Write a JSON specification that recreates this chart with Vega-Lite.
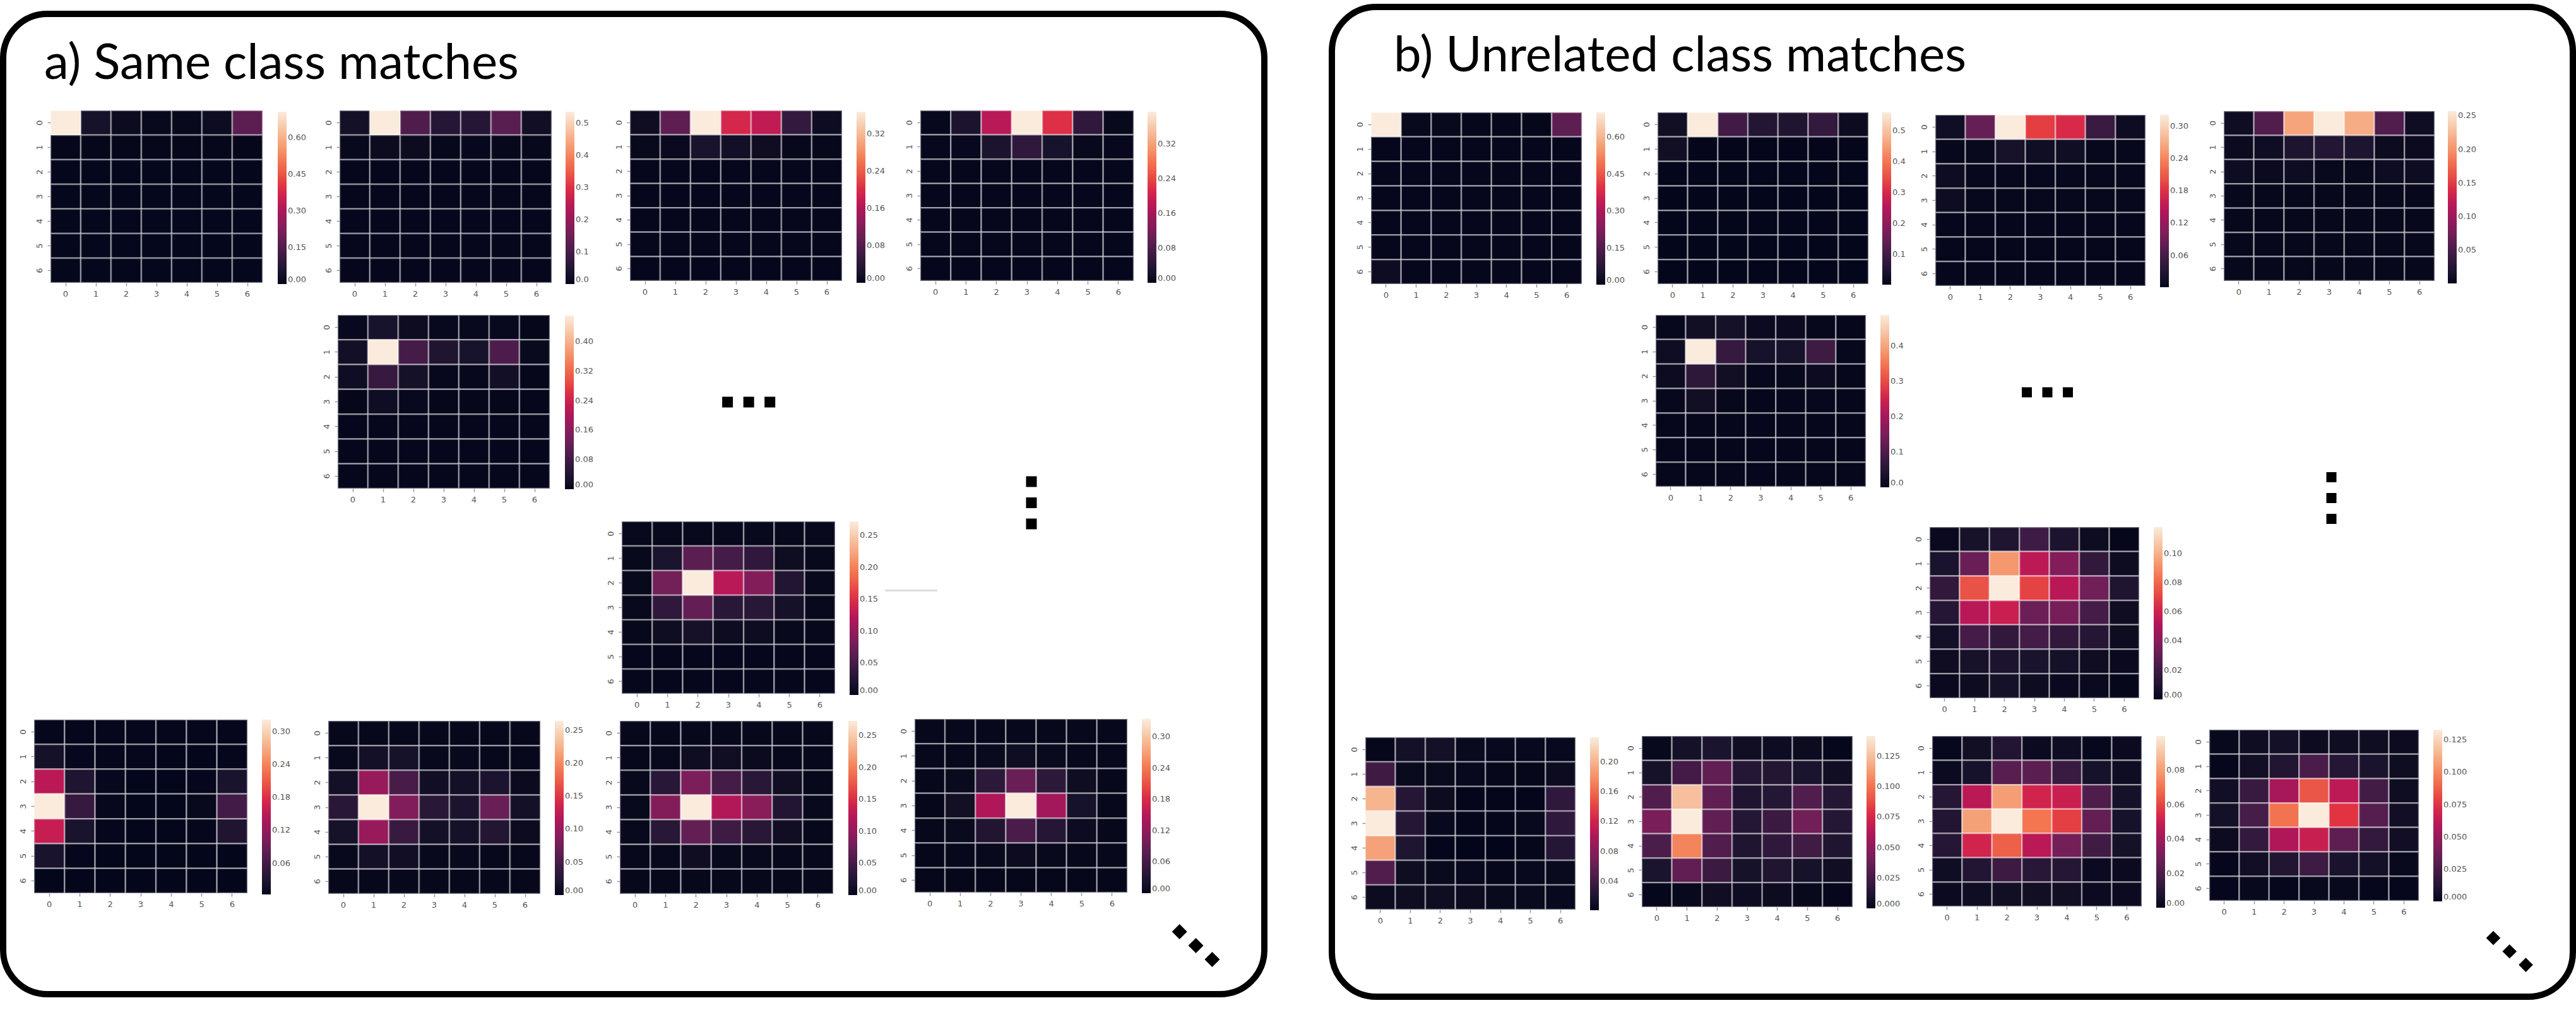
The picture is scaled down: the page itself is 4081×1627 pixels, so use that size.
{"$schema":"https://vega.github.io/schema/vega-lite/v6.json","autosize":{"type":"none"},"padding":0,"width":4081,"height":1627,"background":"white",
"config":{"view":{"stroke":null},"axis":{"domain":false,"grid":false,"ticks":true,"tickSize":5,"tickWidth":1.5,"tickColor":"#999999","labelFont":"DejaVu Sans","labelFontSize":13,"labelColor":"#555555","labelPadding":6,"labelOverlap":false,"labelBound":false,"labelFlush":false},"axisX":{"labelAngle":0},"axisY":{"labelAngle":-90,"labelAlign":"center","labelBaseline":"bottom"},"legend":{"labelFont":"DejaVu Sans","labelFontSize":13,"labelColor":"#555555","labelOffset":5,"labelBaseline":"middle","padding":0,"gradientStrokeWidth":0,"labelOverlap":false,"orient":"none","gradientThickness":14,"title":null}},
"resolve":{"scale":{"x":"independent","y":"independent","color":"independent"},"axis":{"x":"independent","y":"independent"},"legend":{"color":"independent"}},
"datasets":{
"A1":[{"x":0,"y":0,"v":0.706},{"x":1,"y":0,"v":0.04},{"x":2,"y":0,"v":0.015},{"x":3,"y":0,"v":0.01},{"x":4,"y":0,"v":0.01},{"x":5,"y":0,"v":0.02},{"x":6,"y":0,"v":0.17},{"x":0,"y":1,"v":0.006},{"x":1,"y":1,"v":0.006},{"x":2,"y":1,"v":0.006},{"x":3,"y":1,"v":0.006},{"x":4,"y":1,"v":0.006},{"x":5,"y":1,"v":0.006},{"x":6,"y":1,"v":0.006},{"x":0,"y":2,"v":0.004},{"x":1,"y":2,"v":0.004},{"x":2,"y":2,"v":0.004},{"x":3,"y":2,"v":0.004},{"x":4,"y":2,"v":0.004},{"x":5,"y":2,"v":0.004},{"x":6,"y":2,"v":0.004},{"x":0,"y":3,"v":0.004},{"x":1,"y":3,"v":0.004},{"x":2,"y":3,"v":0.004},{"x":3,"y":3,"v":0.004},{"x":4,"y":3,"v":0.004},{"x":5,"y":3,"v":0.004},{"x":6,"y":3,"v":0.004},{"x":0,"y":4,"v":0.004},{"x":1,"y":4,"v":0.004},{"x":2,"y":4,"v":0.004},{"x":3,"y":4,"v":0.004},{"x":4,"y":4,"v":0.004},{"x":5,"y":4,"v":0.004},{"x":6,"y":4,"v":0.004},{"x":0,"y":5,"v":0.004},{"x":1,"y":5,"v":0.004},{"x":2,"y":5,"v":0.004},{"x":3,"y":5,"v":0.004},{"x":4,"y":5,"v":0.004},{"x":5,"y":5,"v":0.004},{"x":6,"y":5,"v":0.004},{"x":0,"y":6,"v":0.004},{"x":1,"y":6,"v":0.004},{"x":2,"y":6,"v":0.004},{"x":3,"y":6,"v":0.004},{"x":4,"y":6,"v":0.004},{"x":5,"y":6,"v":0.004},{"x":6,"y":6,"v":0.004}],
"A2":[{"x":0,"y":0,"v":0.025},{"x":1,"y":0,"v":0.535},{"x":2,"y":0,"v":0.11},{"x":3,"y":0,"v":0.055},{"x":4,"y":0,"v":0.055},{"x":5,"y":0,"v":0.125},{"x":6,"y":0,"v":0.02},{"x":0,"y":1,"v":0.008},{"x":1,"y":1,"v":0.012},{"x":2,"y":1,"v":0.012},{"x":3,"y":1,"v":0.006},{"x":4,"y":1,"v":0.005},{"x":5,"y":1,"v":0.006},{"x":6,"y":1,"v":0.006},{"x":0,"y":2,"v":0.004},{"x":1,"y":2,"v":0.004},{"x":2,"y":2,"v":0.004},{"x":3,"y":2,"v":0.004},{"x":4,"y":2,"v":0.004},{"x":5,"y":2,"v":0.004},{"x":6,"y":2,"v":0.004},{"x":0,"y":3,"v":0.004},{"x":1,"y":3,"v":0.004},{"x":2,"y":3,"v":0.004},{"x":3,"y":3,"v":0.004},{"x":4,"y":3,"v":0.004},{"x":5,"y":3,"v":0.004},{"x":6,"y":3,"v":0.004},{"x":0,"y":4,"v":0.004},{"x":1,"y":4,"v":0.004},{"x":2,"y":4,"v":0.004},{"x":3,"y":4,"v":0.004},{"x":4,"y":4,"v":0.004},{"x":5,"y":4,"v":0.004},{"x":6,"y":4,"v":0.004},{"x":0,"y":5,"v":0.004},{"x":1,"y":5,"v":0.004},{"x":2,"y":5,"v":0.004},{"x":3,"y":5,"v":0.004},{"x":4,"y":5,"v":0.004},{"x":5,"y":5,"v":0.004},{"x":6,"y":5,"v":0.004},{"x":0,"y":6,"v":0.004},{"x":1,"y":6,"v":0.004},{"x":2,"y":6,"v":0.004},{"x":3,"y":6,"v":0.004},{"x":4,"y":6,"v":0.004},{"x":5,"y":6,"v":0.004},{"x":6,"y":6,"v":0.004}],
"A3":[{"x":0,"y":0,"v":0.012},{"x":1,"y":0,"v":0.09},{"x":2,"y":0,"v":0.367},{"x":3,"y":0,"v":0.195},{"x":4,"y":0,"v":0.175},{"x":5,"y":0,"v":0.05},{"x":6,"y":0,"v":0.01},{"x":0,"y":1,"v":0.005},{"x":1,"y":1,"v":0.006},{"x":2,"y":1,"v":0.025},{"x":3,"y":1,"v":0.015},{"x":4,"y":1,"v":0.012},{"x":5,"y":1,"v":0.004},{"x":6,"y":1,"v":0.004},{"x":0,"y":2,"v":0.003},{"x":1,"y":2,"v":0.003},{"x":2,"y":2,"v":0.003},{"x":3,"y":2,"v":0.003},{"x":4,"y":2,"v":0.003},{"x":5,"y":2,"v":0.003},{"x":6,"y":2,"v":0.003},{"x":0,"y":3,"v":0.003},{"x":1,"y":3,"v":0.003},{"x":2,"y":3,"v":0.003},{"x":3,"y":3,"v":0.003},{"x":4,"y":3,"v":0.003},{"x":5,"y":3,"v":0.003},{"x":6,"y":3,"v":0.003},{"x":0,"y":4,"v":0.003},{"x":1,"y":4,"v":0.003},{"x":2,"y":4,"v":0.003},{"x":3,"y":4,"v":0.003},{"x":4,"y":4,"v":0.003},{"x":5,"y":4,"v":0.003},{"x":6,"y":4,"v":0.003},{"x":0,"y":5,"v":0.003},{"x":1,"y":5,"v":0.003},{"x":2,"y":5,"v":0.003},{"x":3,"y":5,"v":0.003},{"x":4,"y":5,"v":0.003},{"x":5,"y":5,"v":0.003},{"x":6,"y":5,"v":0.003},{"x":0,"y":6,"v":0.003},{"x":1,"y":6,"v":0.003},{"x":2,"y":6,"v":0.003},{"x":3,"y":6,"v":0.003},{"x":4,"y":6,"v":0.003},{"x":5,"y":6,"v":0.003},{"x":6,"y":6,"v":0.003}],
"A4":[{"x":0,"y":0,"v":0.004},{"x":1,"y":0,"v":0.03},{"x":2,"y":0,"v":0.18},{"x":3,"y":0,"v":0.394},{"x":4,"y":0,"v":0.22},{"x":5,"y":0,"v":0.05},{"x":6,"y":0,"v":0.006},{"x":0,"y":1,"v":0.004},{"x":1,"y":1,"v":0.005},{"x":2,"y":1,"v":0.03},{"x":3,"y":1,"v":0.05},{"x":4,"y":1,"v":0.025},{"x":5,"y":1,"v":0.006},{"x":6,"y":1,"v":0.004},{"x":0,"y":2,"v":0.003},{"x":1,"y":2,"v":0.003},{"x":2,"y":2,"v":0.003},{"x":3,"y":2,"v":0.003},{"x":4,"y":2,"v":0.003},{"x":5,"y":2,"v":0.003},{"x":6,"y":2,"v":0.003},{"x":0,"y":3,"v":0.003},{"x":1,"y":3,"v":0.003},{"x":2,"y":3,"v":0.003},{"x":3,"y":3,"v":0.003},{"x":4,"y":3,"v":0.003},{"x":5,"y":3,"v":0.003},{"x":6,"y":3,"v":0.003},{"x":0,"y":4,"v":0.003},{"x":1,"y":4,"v":0.003},{"x":2,"y":4,"v":0.003},{"x":3,"y":4,"v":0.003},{"x":4,"y":4,"v":0.003},{"x":5,"y":4,"v":0.003},{"x":6,"y":4,"v":0.003},{"x":0,"y":5,"v":0.003},{"x":1,"y":5,"v":0.003},{"x":2,"y":5,"v":0.003},{"x":3,"y":5,"v":0.003},{"x":4,"y":5,"v":0.003},{"x":5,"y":5,"v":0.003},{"x":6,"y":5,"v":0.003},{"x":0,"y":6,"v":0.003},{"x":1,"y":6,"v":0.003},{"x":2,"y":6,"v":0.003},{"x":3,"y":6,"v":0.003},{"x":4,"y":6,"v":0.003},{"x":5,"y":6,"v":0.003},{"x":6,"y":6,"v":0.003}],
"A5":[{"x":0,"y":0,"v":0.006},{"x":1,"y":0,"v":0.03},{"x":2,"y":0,"v":0.012},{"x":3,"y":0,"v":0.006},{"x":4,"y":0,"v":0.006},{"x":5,"y":0,"v":0.006},{"x":6,"y":0,"v":0.004},{"x":0,"y":1,"v":0.02},{"x":1,"y":1,"v":0.47},{"x":2,"y":1,"v":0.085},{"x":3,"y":1,"v":0.04},{"x":4,"y":1,"v":0.03},{"x":5,"y":1,"v":0.095},{"x":6,"y":1,"v":0.008},{"x":0,"y":2,"v":0.015},{"x":1,"y":2,"v":0.07},{"x":2,"y":2,"v":0.025},{"x":3,"y":2,"v":0.005},{"x":4,"y":2,"v":0.005},{"x":5,"y":2,"v":0.02},{"x":6,"y":2,"v":0.004},{"x":0,"y":3,"v":0.004},{"x":1,"y":3,"v":0.015},{"x":2,"y":3,"v":0.006},{"x":3,"y":3,"v":0.004},{"x":4,"y":3,"v":0.004},{"x":5,"y":3,"v":0.004},{"x":6,"y":3,"v":0.003},{"x":0,"y":4,"v":0.003},{"x":1,"y":4,"v":0.003},{"x":2,"y":4,"v":0.003},{"x":3,"y":4,"v":0.003},{"x":4,"y":4,"v":0.003},{"x":5,"y":4,"v":0.003},{"x":6,"y":4,"v":0.003},{"x":0,"y":5,"v":0.003},{"x":1,"y":5,"v":0.003},{"x":2,"y":5,"v":0.003},{"x":3,"y":5,"v":0.003},{"x":4,"y":5,"v":0.003},{"x":5,"y":5,"v":0.003},{"x":6,"y":5,"v":0.003},{"x":0,"y":6,"v":0.003},{"x":1,"y":6,"v":0.003},{"x":2,"y":6,"v":0.003},{"x":3,"y":6,"v":0.003},{"x":4,"y":6,"v":0.003},{"x":5,"y":6,"v":0.003},{"x":6,"y":6,"v":0.003}],
"A6":[{"x":0,"y":0,"v":0.004},{"x":1,"y":0,"v":0.004},{"x":2,"y":0,"v":0.004},{"x":3,"y":0,"v":0.004},{"x":4,"y":0,"v":0.004},{"x":5,"y":0,"v":0.004},{"x":6,"y":0,"v":0.004},{"x":0,"y":1,"v":0.004},{"x":1,"y":1,"v":0.02},{"x":2,"y":1,"v":0.065},{"x":3,"y":1,"v":0.05},{"x":4,"y":1,"v":0.035},{"x":5,"y":1,"v":0.008},{"x":6,"y":1,"v":0.004},{"x":0,"y":2,"v":0.004},{"x":1,"y":2,"v":0.08},{"x":2,"y":2,"v":0.272},{"x":3,"y":2,"v":0.125},{"x":4,"y":2,"v":0.09},{"x":5,"y":2,"v":0.025},{"x":6,"y":2,"v":0.004},{"x":0,"y":3,"v":0.004},{"x":1,"y":3,"v":0.035},{"x":2,"y":3,"v":0.07},{"x":3,"y":3,"v":0.03},{"x":4,"y":3,"v":0.03},{"x":5,"y":3,"v":0.015},{"x":6,"y":3,"v":0.004},{"x":0,"y":4,"v":0.003},{"x":1,"y":4,"v":0.008},{"x":2,"y":4,"v":0.015},{"x":3,"y":4,"v":0.007},{"x":4,"y":4,"v":0.007},{"x":5,"y":4,"v":0.004},{"x":6,"y":4,"v":0.003},{"x":0,"y":5,"v":0.002},{"x":1,"y":5,"v":0.002},{"x":2,"y":5,"v":0.002},{"x":3,"y":5,"v":0.002},{"x":4,"y":5,"v":0.002},{"x":5,"y":5,"v":0.002},{"x":6,"y":5,"v":0.002},{"x":0,"y":6,"v":0.002},{"x":1,"y":6,"v":0.002},{"x":2,"y":6,"v":0.002},{"x":3,"y":6,"v":0.002},{"x":4,"y":6,"v":0.002},{"x":5,"y":6,"v":0.002},{"x":6,"y":6,"v":0.002}],
"A7":[{"x":0,"y":0,"v":0.005},{"x":1,"y":0,"v":0.005},{"x":2,"y":0,"v":0.005},{"x":3,"y":0,"v":0.005},{"x":4,"y":0,"v":0.005},{"x":5,"y":0,"v":0.005},{"x":6,"y":0,"v":0.005},{"x":0,"y":1,"v":0.02},{"x":1,"y":1,"v":0.006},{"x":2,"y":1,"v":0.005},{"x":3,"y":1,"v":0.005},{"x":4,"y":1,"v":0.004},{"x":5,"y":1,"v":0.004},{"x":6,"y":1,"v":0.005},{"x":0,"y":2,"v":0.15},{"x":1,"y":2,"v":0.03},{"x":2,"y":2,"v":0.006},{"x":3,"y":2,"v":0.004},{"x":4,"y":2,"v":0.004},{"x":5,"y":2,"v":0.005},{"x":6,"y":2,"v":0.025},{"x":0,"y":3,"v":0.322},{"x":1,"y":3,"v":0.05},{"x":2,"y":3,"v":0.006},{"x":3,"y":3,"v":0.004},{"x":4,"y":3,"v":0.004},{"x":5,"y":3,"v":0.008},{"x":6,"y":3,"v":0.06},{"x":0,"y":4,"v":0.16},{"x":1,"y":4,"v":0.025},{"x":2,"y":4,"v":0.005},{"x":3,"y":4,"v":0.004},{"x":4,"y":4,"v":0.004},{"x":5,"y":4,"v":0.005},{"x":6,"y":4,"v":0.03},{"x":0,"y":5,"v":0.025},{"x":1,"y":5,"v":0.005},{"x":2,"y":5,"v":0.004},{"x":3,"y":5,"v":0.004},{"x":4,"y":5,"v":0.004},{"x":5,"y":5,"v":0.004},{"x":6,"y":5,"v":0.004},{"x":0,"y":6,"v":0.004},{"x":1,"y":6,"v":0.004},{"x":2,"y":6,"v":0.004},{"x":3,"y":6,"v":0.004},{"x":4,"y":6,"v":0.004},{"x":5,"y":6,"v":0.004},{"x":6,"y":6,"v":0.004}],
"A8":[{"x":0,"y":0,"v":0.003},{"x":1,"y":0,"v":0.003},{"x":2,"y":0,"v":0.003},{"x":3,"y":0,"v":0.003},{"x":4,"y":0,"v":0.003},{"x":5,"y":0,"v":0.003},{"x":6,"y":0,"v":0.003},{"x":0,"y":1,"v":0.004},{"x":1,"y":1,"v":0.012},{"x":2,"y":1,"v":0.015},{"x":3,"y":1,"v":0.004},{"x":4,"y":1,"v":0.004},{"x":5,"y":1,"v":0.003},{"x":6,"y":1,"v":0.003},{"x":0,"y":2,"v":0.012},{"x":1,"y":2,"v":0.1},{"x":2,"y":2,"v":0.05},{"x":3,"y":2,"v":0.01},{"x":4,"y":2,"v":0.012},{"x":5,"y":2,"v":0.02},{"x":6,"y":2,"v":0.005},{"x":0,"y":3,"v":0.03},{"x":1,"y":3,"v":0.264},{"x":2,"y":3,"v":0.085},{"x":3,"y":3,"v":0.03},{"x":4,"y":3,"v":0.02},{"x":5,"y":3,"v":0.07},{"x":6,"y":3,"v":0.012},{"x":0,"y":4,"v":0.015},{"x":1,"y":4,"v":0.1},{"x":2,"y":4,"v":0.04},{"x":3,"y":4,"v":0.012},{"x":4,"y":4,"v":0.014},{"x":5,"y":4,"v":0.025},{"x":6,"y":4,"v":0.006},{"x":0,"y":5,"v":0.004},{"x":1,"y":5,"v":0.012},{"x":2,"y":5,"v":0.01},{"x":3,"y":5,"v":0.004},{"x":4,"y":5,"v":0.004},{"x":5,"y":5,"v":0.003},{"x":6,"y":5,"v":0.003},{"x":0,"y":6,"v":0.003},{"x":1,"y":6,"v":0.003},{"x":2,"y":6,"v":0.003},{"x":3,"y":6,"v":0.003},{"x":4,"y":6,"v":0.003},{"x":5,"y":6,"v":0.003},{"x":6,"y":6,"v":0.003}],
"A9":[{"x":0,"y":0,"v":0.003},{"x":1,"y":0,"v":0.003},{"x":2,"y":0,"v":0.003},{"x":3,"y":0,"v":0.003},{"x":4,"y":0,"v":0.003},{"x":5,"y":0,"v":0.003},{"x":6,"y":0,"v":0.003},{"x":0,"y":1,"v":0.003},{"x":1,"y":1,"v":0.004},{"x":2,"y":1,"v":0.008},{"x":3,"y":1,"v":0.01},{"x":4,"y":1,"v":0.005},{"x":5,"y":1,"v":0.003},{"x":6,"y":1,"v":0.003},{"x":0,"y":2,"v":0.004},{"x":1,"y":2,"v":0.03},{"x":2,"y":2,"v":0.085},{"x":3,"y":2,"v":0.05},{"x":4,"y":2,"v":0.03},{"x":5,"y":2,"v":0.01},{"x":6,"y":2,"v":0.003},{"x":0,"y":3,"v":0.004},{"x":1,"y":3,"v":0.09},{"x":2,"y":3,"v":0.273},{"x":3,"y":3,"v":0.12},{"x":4,"y":3,"v":0.093},{"x":5,"y":3,"v":0.025},{"x":6,"y":3,"v":0.004},{"x":0,"y":4,"v":0.004},{"x":1,"y":4,"v":0.03},{"x":2,"y":4,"v":0.07},{"x":3,"y":4,"v":0.045},{"x":4,"y":4,"v":0.03},{"x":5,"y":4,"v":0.01},{"x":6,"y":4,"v":0.003},{"x":0,"y":5,"v":0.003},{"x":1,"y":5,"v":0.004},{"x":2,"y":5,"v":0.009},{"x":3,"y":5,"v":0.004},{"x":4,"y":5,"v":0.004},{"x":5,"y":5,"v":0.003},{"x":6,"y":5,"v":0.003},{"x":0,"y":6,"v":0.003},{"x":1,"y":6,"v":0.003},{"x":2,"y":6,"v":0.003},{"x":3,"y":6,"v":0.003},{"x":4,"y":6,"v":0.003},{"x":5,"y":6,"v":0.003},{"x":6,"y":6,"v":0.003}],
"A10":[{"x":0,"y":0,"v":0.004},{"x":1,"y":0,"v":0.004},{"x":2,"y":0,"v":0.004},{"x":3,"y":0,"v":0.004},{"x":4,"y":0,"v":0.004},{"x":5,"y":0,"v":0.004},{"x":6,"y":0,"v":0.004},{"x":0,"y":1,"v":0.004},{"x":1,"y":1,"v":0.004},{"x":2,"y":1,"v":0.006},{"x":3,"y":1,"v":0.01},{"x":4,"y":1,"v":0.006},{"x":5,"y":1,"v":0.004},{"x":6,"y":1,"v":0.004},{"x":0,"y":2,"v":0.004},{"x":1,"y":2,"v":0.006},{"x":2,"y":2,"v":0.04},{"x":3,"y":2,"v":0.09},{"x":4,"y":2,"v":0.04},{"x":5,"y":2,"v":0.01},{"x":6,"y":2,"v":0.004},{"x":0,"y":3,"v":0.003},{"x":1,"y":3,"v":0.015},{"x":2,"y":3,"v":0.145},{"x":3,"y":3,"v":0.334},{"x":4,"y":3,"v":0.135},{"x":5,"y":3,"v":0.02},{"x":6,"y":3,"v":0.004},{"x":0,"y":4,"v":0.004},{"x":1,"y":4,"v":0.006},{"x":2,"y":4,"v":0.03},{"x":3,"y":4,"v":0.065},{"x":4,"y":4,"v":0.035},{"x":5,"y":4,"v":0.008},{"x":6,"y":4,"v":0.004},{"x":0,"y":5,"v":0.003},{"x":1,"y":5,"v":0.004},{"x":2,"y":5,"v":0.005},{"x":3,"y":5,"v":0.007},{"x":4,"y":5,"v":0.005},{"x":5,"y":5,"v":0.004},{"x":6,"y":5,"v":0.004},{"x":0,"y":6,"v":0.003},{"x":1,"y":6,"v":0.003},{"x":2,"y":6,"v":0.003},{"x":3,"y":6,"v":0.003},{"x":4,"y":6,"v":0.003},{"x":5,"y":6,"v":0.003},{"x":6,"y":6,"v":0.003}],
"B1":[{"x":0,"y":0,"v":0.7},{"x":1,"y":0,"v":0.01},{"x":2,"y":0,"v":0.01},{"x":3,"y":0,"v":0.006},{"x":4,"y":0,"v":0.006},{"x":5,"y":0,"v":0.006},{"x":6,"y":0,"v":0.17},{"x":0,"y":1,"v":0.005},{"x":1,"y":1,"v":0.005},{"x":2,"y":1,"v":0.005},{"x":3,"y":1,"v":0.005},{"x":4,"y":1,"v":0.005},{"x":5,"y":1,"v":0.005},{"x":6,"y":1,"v":0.005},{"x":0,"y":2,"v":0.005},{"x":1,"y":2,"v":0.005},{"x":2,"y":2,"v":0.005},{"x":3,"y":2,"v":0.005},{"x":4,"y":2,"v":0.005},{"x":5,"y":2,"v":0.005},{"x":6,"y":2,"v":0.005},{"x":0,"y":3,"v":0.005},{"x":1,"y":3,"v":0.005},{"x":2,"y":3,"v":0.005},{"x":3,"y":3,"v":0.005},{"x":4,"y":3,"v":0.005},{"x":5,"y":3,"v":0.005},{"x":6,"y":3,"v":0.005},{"x":0,"y":4,"v":0.005},{"x":1,"y":4,"v":0.005},{"x":2,"y":4,"v":0.005},{"x":3,"y":4,"v":0.005},{"x":4,"y":4,"v":0.005},{"x":5,"y":4,"v":0.005},{"x":6,"y":4,"v":0.005},{"x":0,"y":5,"v":0.005},{"x":1,"y":5,"v":0.005},{"x":2,"y":5,"v":0.005},{"x":3,"y":5,"v":0.005},{"x":4,"y":5,"v":0.005},{"x":5,"y":5,"v":0.005},{"x":6,"y":5,"v":0.005},{"x":0,"y":6,"v":0.02},{"x":1,"y":6,"v":0.005},{"x":2,"y":6,"v":0.005},{"x":3,"y":6,"v":0.005},{"x":4,"y":6,"v":0.005},{"x":5,"y":6,"v":0.005},{"x":6,"y":6,"v":0.005}],
"B2":[{"x":0,"y":0,"v":0.025},{"x":1,"y":0,"v":0.56},{"x":2,"y":0,"v":0.1},{"x":3,"y":0,"v":0.055},{"x":4,"y":0,"v":0.05},{"x":5,"y":0,"v":0.08},{"x":6,"y":0,"v":0.015},{"x":0,"y":1,"v":0.025},{"x":1,"y":1,"v":0.006},{"x":2,"y":1,"v":0.006},{"x":3,"y":1,"v":0.006},{"x":4,"y":1,"v":0.006},{"x":5,"y":1,"v":0.006},{"x":6,"y":1,"v":0.006},{"x":0,"y":2,"v":0.005},{"x":1,"y":2,"v":0.005},{"x":2,"y":2,"v":0.005},{"x":3,"y":2,"v":0.005},{"x":4,"y":2,"v":0.005},{"x":5,"y":2,"v":0.005},{"x":6,"y":2,"v":0.005},{"x":0,"y":3,"v":0.005},{"x":1,"y":3,"v":0.005},{"x":2,"y":3,"v":0.005},{"x":3,"y":3,"v":0.005},{"x":4,"y":3,"v":0.005},{"x":5,"y":3,"v":0.005},{"x":6,"y":3,"v":0.005},{"x":0,"y":4,"v":0.005},{"x":1,"y":4,"v":0.005},{"x":2,"y":4,"v":0.005},{"x":3,"y":4,"v":0.005},{"x":4,"y":4,"v":0.005},{"x":5,"y":4,"v":0.005},{"x":6,"y":4,"v":0.005},{"x":0,"y":5,"v":0.005},{"x":1,"y":5,"v":0.005},{"x":2,"y":5,"v":0.005},{"x":3,"y":5,"v":0.005},{"x":4,"y":5,"v":0.005},{"x":5,"y":5,"v":0.005},{"x":6,"y":5,"v":0.005},{"x":0,"y":6,"v":0.005},{"x":1,"y":6,"v":0.005},{"x":2,"y":6,"v":0.005},{"x":3,"y":6,"v":0.005},{"x":4,"y":6,"v":0.005},{"x":5,"y":6,"v":0.005},{"x":6,"y":6,"v":0.005}],
"B3":[{"x":0,"y":0,"v":0.012},{"x":1,"y":0,"v":0.085},{"x":2,"y":0,"v":0.321},{"x":3,"y":0,"v":0.19},{"x":4,"y":0,"v":0.175},{"x":5,"y":0,"v":0.05},{"x":6,"y":0,"v":0.01},{"x":0,"y":1,"v":0.004},{"x":1,"y":1,"v":0.006},{"x":2,"y":1,"v":0.02},{"x":3,"y":1,"v":0.012},{"x":4,"y":1,"v":0.012},{"x":5,"y":1,"v":0.004},{"x":6,"y":1,"v":0.004},{"x":0,"y":2,"v":0.01},{"x":1,"y":2,"v":0.004},{"x":2,"y":2,"v":0.004},{"x":3,"y":2,"v":0.004},{"x":4,"y":2,"v":0.004},{"x":5,"y":2,"v":0.004},{"x":6,"y":2,"v":0.004},{"x":0,"y":3,"v":0.01},{"x":1,"y":3,"v":0.004},{"x":2,"y":3,"v":0.004},{"x":3,"y":3,"v":0.004},{"x":4,"y":3,"v":0.004},{"x":5,"y":3,"v":0.004},{"x":6,"y":3,"v":0.004},{"x":0,"y":4,"v":0.003},{"x":1,"y":4,"v":0.003},{"x":2,"y":4,"v":0.003},{"x":3,"y":4,"v":0.003},{"x":4,"y":4,"v":0.003},{"x":5,"y":4,"v":0.003},{"x":6,"y":4,"v":0.003},{"x":0,"y":5,"v":0.003},{"x":1,"y":5,"v":0.003},{"x":2,"y":5,"v":0.003},{"x":3,"y":5,"v":0.003},{"x":4,"y":5,"v":0.003},{"x":5,"y":5,"v":0.003},{"x":6,"y":5,"v":0.003},{"x":0,"y":6,"v":0.003},{"x":1,"y":6,"v":0.003},{"x":2,"y":6,"v":0.003},{"x":3,"y":6,"v":0.003},{"x":4,"y":6,"v":0.003},{"x":5,"y":6,"v":0.003},{"x":6,"y":6,"v":0.003}],
"B4":[{"x":0,"y":0,"v":0.008},{"x":1,"y":0,"v":0.055},{"x":2,"y":0,"v":0.21},{"x":3,"y":0,"v":0.257},{"x":4,"y":0,"v":0.215},{"x":5,"y":0,"v":0.055},{"x":6,"y":0,"v":0.008},{"x":0,"y":1,"v":0.005},{"x":1,"y":1,"v":0.008},{"x":2,"y":1,"v":0.02},{"x":3,"y":1,"v":0.025},{"x":4,"y":1,"v":0.02},{"x":5,"y":1,"v":0.006},{"x":6,"y":1,"v":0.005},{"x":0,"y":2,"v":0.007},{"x":1,"y":2,"v":0.005},{"x":2,"y":2,"v":0.007},{"x":3,"y":2,"v":0.004},{"x":4,"y":2,"v":0.004},{"x":5,"y":2,"v":0.007},{"x":6,"y":2,"v":0.007},{"x":0,"y":3,"v":0.003},{"x":1,"y":3,"v":0.003},{"x":2,"y":3,"v":0.003},{"x":3,"y":3,"v":0.003},{"x":4,"y":3,"v":0.003},{"x":5,"y":3,"v":0.003},{"x":6,"y":3,"v":0.003},{"x":0,"y":4,"v":0.003},{"x":1,"y":4,"v":0.003},{"x":2,"y":4,"v":0.003},{"x":3,"y":4,"v":0.003},{"x":4,"y":4,"v":0.003},{"x":5,"y":4,"v":0.003},{"x":6,"y":4,"v":0.003},{"x":0,"y":5,"v":0.003},{"x":1,"y":5,"v":0.003},{"x":2,"y":5,"v":0.003},{"x":3,"y":5,"v":0.003},{"x":4,"y":5,"v":0.003},{"x":5,"y":5,"v":0.003},{"x":6,"y":5,"v":0.003},{"x":0,"y":6,"v":0.003},{"x":1,"y":6,"v":0.003},{"x":2,"y":6,"v":0.003},{"x":3,"y":6,"v":0.003},{"x":4,"y":6,"v":0.003},{"x":5,"y":6,"v":0.003},{"x":6,"y":6,"v":0.003}],
"B5":[{"x":0,"y":0,"v":0.005},{"x":1,"y":0,"v":0.02},{"x":2,"y":0,"v":0.025},{"x":3,"y":0,"v":0.01},{"x":4,"y":0,"v":0.01},{"x":5,"y":0,"v":0.006},{"x":6,"y":0,"v":0.004},{"x":0,"y":1,"v":0.015},{"x":1,"y":1,"v":0.4875},{"x":2,"y":1,"v":0.07},{"x":3,"y":1,"v":0.03},{"x":4,"y":1,"v":0.03},{"x":5,"y":1,"v":0.08},{"x":6,"y":1,"v":0.005},{"x":0,"y":2,"v":0.012},{"x":1,"y":2,"v":0.06},{"x":2,"y":2,"v":0.02},{"x":3,"y":2,"v":0.005},{"x":4,"y":2,"v":0.006},{"x":5,"y":2,"v":0.012},{"x":6,"y":2,"v":0.004},{"x":0,"y":3,"v":0.005},{"x":1,"y":3,"v":0.02},{"x":2,"y":3,"v":0.006},{"x":3,"y":3,"v":0.004},{"x":4,"y":3,"v":0.004},{"x":5,"y":3,"v":0.005},{"x":6,"y":3,"v":0.003},{"x":0,"y":4,"v":0.003},{"x":1,"y":4,"v":0.003},{"x":2,"y":4,"v":0.003},{"x":3,"y":4,"v":0.003},{"x":4,"y":4,"v":0.003},{"x":5,"y":4,"v":0.003},{"x":6,"y":4,"v":0.003},{"x":0,"y":5,"v":0.003},{"x":1,"y":5,"v":0.003},{"x":2,"y":5,"v":0.003},{"x":3,"y":5,"v":0.003},{"x":4,"y":5,"v":0.003},{"x":5,"y":5,"v":0.003},{"x":6,"y":5,"v":0.003},{"x":0,"y":6,"v":0.003},{"x":1,"y":6,"v":0.003},{"x":2,"y":6,"v":0.003},{"x":3,"y":6,"v":0.003},{"x":4,"y":6,"v":0.003},{"x":5,"y":6,"v":0.003},{"x":6,"y":6,"v":0.003}],
"B6":[{"x":0,"y":0,"v":0.002},{"x":1,"y":0,"v":0.007},{"x":2,"y":0,"v":0.01},{"x":3,"y":0,"v":0.02},{"x":4,"y":0,"v":0.009},{"x":5,"y":0,"v":0.003},{"x":6,"y":0,"v":0.001},{"x":0,"y":1,"v":0.008},{"x":1,"y":1,"v":0.032},{"x":2,"y":1,"v":0.093},{"x":3,"y":1,"v":0.055},{"x":4,"y":1,"v":0.039},{"x":5,"y":1,"v":0.016},{"x":6,"y":1,"v":0.003},{"x":0,"y":2,"v":0.016},{"x":1,"y":2,"v":0.074},{"x":2,"y":2,"v":0.118},{"x":3,"y":2,"v":0.07},{"x":4,"y":2,"v":0.054},{"x":5,"y":2,"v":0.034},{"x":6,"y":2,"v":0.01},{"x":0,"y":3,"v":0.012},{"x":1,"y":3,"v":0.054},{"x":2,"y":3,"v":0.059},{"x":3,"y":3,"v":0.033},{"x":4,"y":3,"v":0.036},{"x":5,"y":3,"v":0.022},{"x":6,"y":3,"v":0.004},{"x":0,"y":4,"v":0.005},{"x":1,"y":4,"v":0.022},{"x":2,"y":4,"v":0.016},{"x":3,"y":4,"v":0.022},{"x":4,"y":4,"v":0.016},{"x":5,"y":4,"v":0.012},{"x":6,"y":4,"v":0.003},{"x":0,"y":5,"v":0.004},{"x":1,"y":5,"v":0.007},{"x":2,"y":5,"v":0.009},{"x":3,"y":5,"v":0.008},{"x":4,"y":5,"v":0.006},{"x":5,"y":5,"v":0.004},{"x":6,"y":5,"v":0.002},{"x":0,"y":6,"v":0.002},{"x":1,"y":6,"v":0.003},{"x":2,"y":6,"v":0.006},{"x":3,"y":6,"v":0.003},{"x":4,"y":6,"v":0.002},{"x":5,"y":6,"v":0.002},{"x":6,"y":6,"v":0.001}],
"B7":[{"x":0,"y":0,"v":0.003},{"x":1,"y":0,"v":0.012},{"x":2,"y":0,"v":0.012},{"x":3,"y":0,"v":0.005},{"x":4,"y":0,"v":0.004},{"x":5,"y":0,"v":0.004},{"x":6,"y":0,"v":0.004},{"x":0,"y":1,"v":0.04},{"x":1,"y":1,"v":0.005},{"x":2,"y":1,"v":0.005},{"x":3,"y":1,"v":0.004},{"x":4,"y":1,"v":0.003},{"x":5,"y":1,"v":0.003},{"x":6,"y":1,"v":0.006},{"x":0,"y":2,"v":0.2},{"x":1,"y":2,"v":0.025},{"x":2,"y":2,"v":0.006},{"x":3,"y":2,"v":0.002},{"x":4,"y":2,"v":0.002},{"x":5,"y":2,"v":0.002},{"x":6,"y":2,"v":0.03},{"x":0,"y":3,"v":0.233},{"x":1,"y":3,"v":0.025},{"x":2,"y":3,"v":0.004},{"x":3,"y":3,"v":0.002},{"x":4,"y":3,"v":0.002},{"x":5,"y":3,"v":0.004},{"x":6,"y":3,"v":0.03},{"x":0,"y":4,"v":0.19},{"x":1,"y":4,"v":0.02},{"x":2,"y":4,"v":0.002},{"x":3,"y":4,"v":0.001},{"x":4,"y":4,"v":0.001},{"x":5,"y":4,"v":0.003},{"x":6,"y":4,"v":0.025},{"x":0,"y":5,"v":0.05},{"x":1,"y":5,"v":0.008},{"x":2,"y":5,"v":0.005},{"x":3,"y":5,"v":0.004},{"x":4,"y":5,"v":0.003},{"x":5,"y":5,"v":0.004},{"x":6,"y":5,"v":0.005},{"x":0,"y":6,"v":0.006},{"x":1,"y":6,"v":0.008},{"x":2,"y":6,"v":0.008},{"x":3,"y":6,"v":0.006},{"x":4,"y":6,"v":0.005},{"x":5,"y":6,"v":0.005},{"x":6,"y":6,"v":0.004}],
"B8":[{"x":0,"y":0,"v":0.002},{"x":1,"y":0,"v":0.007},{"x":2,"y":0,"v":0.01},{"x":3,"y":0,"v":0.005},{"x":4,"y":0,"v":0.004},{"x":5,"y":0,"v":0.003},{"x":6,"y":0,"v":0.001},{"x":0,"y":1,"v":0.008},{"x":1,"y":1,"v":0.025},{"x":2,"y":1,"v":0.035},{"x":3,"y":1,"v":0.014},{"x":4,"y":1,"v":0.013},{"x":5,"y":1,"v":0.01},{"x":6,"y":1,"v":0.005},{"x":0,"y":2,"v":0.03},{"x":1,"y":2,"v":0.125},{"x":2,"y":2,"v":0.035},{"x":3,"y":2,"v":0.012},{"x":4,"y":2,"v":0.014},{"x":5,"y":2,"v":0.03},{"x":6,"y":2,"v":0.014},{"x":0,"y":3,"v":0.043},{"x":1,"y":3,"v":0.1415},{"x":2,"y":3,"v":0.035},{"x":3,"y":3,"v":0.014},{"x":4,"y":3,"v":0.022},{"x":5,"y":3,"v":0.04},{"x":6,"y":3,"v":0.014},{"x":0,"y":4,"v":0.028},{"x":1,"y":4,"v":0.105},{"x":2,"y":4,"v":0.03},{"x":3,"y":4,"v":0.012},{"x":4,"y":4,"v":0.018},{"x":5,"y":4,"v":0.024},{"x":6,"y":4,"v":0.012},{"x":0,"y":5,"v":0.01},{"x":1,"y":5,"v":0.035},{"x":2,"y":5,"v":0.022},{"x":3,"y":5,"v":0.008},{"x":4,"y":5,"v":0.012},{"x":5,"y":5,"v":0.008},{"x":6,"y":5,"v":0.005},{"x":0,"y":6,"v":0.001},{"x":1,"y":6,"v":0.002},{"x":2,"y":6,"v":0.005},{"x":3,"y":6,"v":0.004},{"x":4,"y":6,"v":0.003},{"x":5,"y":6,"v":0.002},{"x":6,"y":6,"v":0.001}],
"B9":[{"x":0,"y":0,"v":0.001},{"x":1,"y":0,"v":0.004},{"x":2,"y":0,"v":0.009},{"x":3,"y":0,"v":0.002},{"x":4,"y":0,"v":0.003},{"x":5,"y":0,"v":0.001},{"x":6,"y":0,"v":0.002},{"x":0,"y":1,"v":0.002},{"x":1,"y":1,"v":0.006},{"x":2,"y":1,"v":0.023},{"x":3,"y":1,"v":0.024},{"x":4,"y":1,"v":0.015},{"x":5,"y":1,"v":0.006},{"x":6,"y":1,"v":0.003},{"x":0,"y":2,"v":0.01},{"x":1,"y":2,"v":0.046},{"x":2,"y":2,"v":0.08},{"x":3,"y":2,"v":0.052},{"x":4,"y":2,"v":0.05},{"x":5,"y":2,"v":0.021},{"x":6,"y":2,"v":0.005},{"x":0,"y":3,"v":0.009},{"x":1,"y":3,"v":0.081},{"x":2,"y":3,"v":0.1},{"x":3,"y":3,"v":0.071},{"x":4,"y":3,"v":0.059},{"x":5,"y":3,"v":0.026},{"x":6,"y":3,"v":0.006},{"x":0,"y":4,"v":0.01},{"x":1,"y":4,"v":0.052},{"x":2,"y":4,"v":0.066},{"x":3,"y":4,"v":0.046},{"x":4,"y":4,"v":0.03},{"x":5,"y":4,"v":0.017},{"x":6,"y":4,"v":0.005},{"x":0,"y":5,"v":0.003},{"x":1,"y":5,"v":0.009},{"x":2,"y":5,"v":0.016},{"x":3,"y":5,"v":0.011},{"x":4,"y":5,"v":0.01},{"x":5,"y":5,"v":0.002},{"x":6,"y":5,"v":0.002},{"x":0,"y":6,"v":0.002},{"x":1,"y":6,"v":0.003},{"x":2,"y":6,"v":0.004},{"x":3,"y":6,"v":0.004},{"x":4,"y":6,"v":0.004},{"x":5,"y":6,"v":0.002},{"x":6,"y":6,"v":0.002}],
"B10":[{"x":0,"y":0,"v":0.002},{"x":1,"y":0,"v":0.004},{"x":2,"y":0,"v":0.006},{"x":3,"y":0,"v":0.003},{"x":4,"y":0,"v":0.004},{"x":5,"y":0,"v":0.004},{"x":6,"y":0,"v":0.003},{"x":0,"y":1,"v":0.001},{"x":1,"y":1,"v":0.005},{"x":2,"y":1,"v":0.012},{"x":3,"y":1,"v":0.026},{"x":4,"y":1,"v":0.013},{"x":5,"y":1,"v":0.009},{"x":6,"y":1,"v":0.004},{"x":0,"y":2,"v":0.005},{"x":1,"y":2,"v":0.02},{"x":2,"y":2,"v":0.055},{"x":3,"y":2,"v":0.085},{"x":4,"y":2,"v":0.062},{"x":5,"y":2,"v":0.024},{"x":6,"y":2,"v":0.004},{"x":0,"y":3,"v":0.006},{"x":1,"y":3,"v":0.025},{"x":2,"y":3,"v":0.094},{"x":3,"y":3,"v":0.133},{"x":4,"y":3,"v":0.076},{"x":5,"y":3,"v":0.03},{"x":6,"y":3,"v":0.005},{"x":0,"y":4,"v":0.003},{"x":1,"y":4,"v":0.018},{"x":2,"y":4,"v":0.058},{"x":3,"y":4,"v":0.066},{"x":4,"y":4,"v":0.033},{"x":5,"y":4,"v":0.018},{"x":6,"y":4,"v":0.005},{"x":0,"y":5,"v":0.001},{"x":1,"y":5,"v":0.005},{"x":2,"y":5,"v":0.012},{"x":3,"y":5,"v":0.022},{"x":4,"y":5,"v":0.009},{"x":5,"y":5,"v":0.006},{"x":6,"y":5,"v":0.002},{"x":0,"y":6,"v":0.001},{"x":1,"y":6,"v":0.002},{"x":2,"y":6,"v":0.001},{"x":3,"y":6,"v":0.002},{"x":4,"y":6,"v":0.002},{"x":5,"y":6,"v":0.001},{"x":6,"y":6,"v":0.001}],
"dots":[{"i":0},{"i":1},{"i":2}]
},
"layer":[
{"data":{"values":[{"frame":"a"}]},"mark":{"type":"rect","filled":false,"stroke":"black","strokeWidth":10,"cornerRadius":70},"encoding":{"x":{"field":"frame","type":"nominal","scale":{"type":"band","range":[5,2003],"paddingInner":0,"paddingOuter":0},"axis":null},"y":{"field":"frame","type":"nominal","scale":{"type":"band","range":[22,1575],"paddingInner":0,"paddingOuter":0},"axis":null}}},
{"data":{"values":[{"frame":"b"}]},"mark":{"type":"rect","filled":false,"stroke":"black","strokeWidth":10,"cornerRadius":70},"encoding":{"x":{"field":"frame","type":"nominal","scale":{"type":"band","range":[2110,4076],"paddingInner":0,"paddingOuter":0},"axis":null},"y":{"field":"frame","type":"nominal","scale":{"type":"band","range":[11,1579],"paddingInner":0,"paddingOuter":0},"axis":null}}},
{"data":{"values":[{"title":"a) Same class matches"}]},"mark":{"type":"text","font":"Lato","fontSize":78,"align":"left","baseline":"alphabetic","color":"black"},"encoding":{"text":{"field":"title"},"x":{"field":"title","type":"nominal","scale":{"type":"point","range":[70,70]},"axis":null},"y":{"field":"title","type":"nominal","scale":{"type":"point","range":[125,125]},"axis":null}}},
{"data":{"values":[{"title":"b) Unrelated class matches"}]},"mark":{"type":"text","font":"Lato","fontSize":78,"align":"left","baseline":"alphabetic","color":"black"},"encoding":{"text":{"field":"title"},"x":{"field":"title","type":"nominal","scale":{"type":"point","range":[2208,2208]},"axis":null},"y":{"field":"title","type":"nominal","scale":{"type":"point","range":[113,113]},"axis":null}}},
{"data":{"values":[{"mark":"scan streak"}]},"mark":{"type":"rect","fill":"#dcdcdc"},"encoding":{"x":{"field":"mark","type":"nominal","scale":{"type":"band","range":[1402,1485],"paddingInner":0,"paddingOuter":0},"axis":null},"y":{"field":"mark","type":"nominal","scale":{"type":"band","range":[934,937],"paddingInner":0,"paddingOuter":0},"axis":null}}},
{"data":{"name":"dots"},"mark":{"type":"point","shape":"square","filled":true,"size":289,"color":"black","opacity":1,"strokeWidth":0},"encoding":{"x":{"field":"i","type":"quantitative","scale":{"domain":[0,2],"range":[1152.6,1219.7],"nice":false,"zero":false},"axis":null},"y":{"field":"i","type":"quantitative","scale":{"domain":[0,2],"range":[637,637],"nice":false,"zero":false},"axis":null}}},
{"data":{"name":"dots"},"mark":{"type":"point","shape":"square","filled":true,"size":289,"color":"black","opacity":1,"strokeWidth":0},"encoding":{"x":{"field":"i","type":"quantitative","scale":{"domain":[0,2],"range":[1634,1634],"nice":false,"zero":false},"axis":null},"y":{"field":"i","type":"quantitative","scale":{"domain":[0,2],"range":[763,830],"nice":false,"zero":false},"axis":null}}},
{"data":{"name":"dots"},"mark":{"type":"point","shape":"square","filled":true,"size":289,"angle":45,"color":"black","opacity":1,"strokeWidth":0},"encoding":{"x":{"field":"i","type":"quantitative","scale":{"domain":[0,2],"range":[1868.7,1920.4],"nice":false,"zero":false},"axis":null},"y":{"field":"i","type":"quantitative","scale":{"domain":[0,2],"range":[1476,1520],"nice":false,"zero":false},"axis":null}}},
{"data":{"name":"dots"},"mark":{"type":"point","shape":"square","filled":true,"size":256,"color":"black","opacity":1,"strokeWidth":0},"encoding":{"x":{"field":"i","type":"quantitative","scale":{"domain":[0,2],"range":[3211,3276],"nice":false,"zero":false},"axis":null},"y":{"field":"i","type":"quantitative","scale":{"domain":[0,2],"range":[621.5,621.5],"nice":false,"zero":false},"axis":null}}},
{"data":{"name":"dots"},"mark":{"type":"point","shape":"square","filled":true,"size":256,"color":"black","opacity":1,"strokeWidth":0},"encoding":{"x":{"field":"i","type":"quantitative","scale":{"domain":[0,2],"range":[3693.5,3693.5],"nice":false,"zero":false},"axis":null},"y":{"field":"i","type":"quantitative","scale":{"domain":[0,2],"range":[756,822],"nice":false,"zero":false},"axis":null}}},
{"data":{"name":"dots"},"mark":{"type":"point","shape":"square","filled":true,"size":256,"angle":45,"color":"black","opacity":1,"strokeWidth":0},"encoding":{"x":{"field":"i","type":"quantitative","scale":{"domain":[0,2],"range":[3950,4001.5],"nice":false,"zero":false},"axis":null},"y":{"field":"i","type":"quantitative","scale":{"domain":[0,2],"range":[1486,1528.6],"nice":false,"zero":false},"axis":null}}},
{"data":{"name":"A1"},"mark":{"type":"rect","stroke":"white","strokeOpacity":0.42,"strokeWidth":2.5},"encoding":{"x":{"field":"x","type":"ordinal","scale":{"domain":[0,1,2,3,4,5,6],"range":[80,416],"paddingInner":0,"paddingOuter":0},"axis":{"title":null,"orient":"bottom","offset":-1179}},"y":{"field":"y","type":"ordinal","scale":{"domain":[0,1,2,3,4,5,6],"range":[175,448],"paddingInner":0,"paddingOuter":0},"axis":{"title":null,"orient":"left","offset":-80}},"color":{"field":"v","type":"quantitative","scale":{"domain":[0,0.101,0.202,0.303,0.403,0.504,0.605,0.706],"range":["#03051a","#35193e","#701f57","#ad1759","#e13342","#f37651","#f6b48f","#faebdd"]},"legend":{"legendX":440,"legendY":177,"gradientLength":273,"values":[0,0.15,0.3,0.45,0.6],"format":".2f"}}}},
{"data":{"name":"A2"},"mark":{"type":"rect","stroke":"white","strokeOpacity":0.42,"strokeWidth":2.5},"encoding":{"x":{"field":"x","type":"ordinal","scale":{"domain":[0,1,2,3,4,5,6],"range":[538,874],"paddingInner":0,"paddingOuter":0},"axis":{"title":null,"orient":"bottom","offset":-1179}},"y":{"field":"y","type":"ordinal","scale":{"domain":[0,1,2,3,4,5,6],"range":[175,448],"paddingInner":0,"paddingOuter":0},"axis":{"title":null,"orient":"left","offset":-538}},"color":{"field":"v","type":"quantitative","scale":{"domain":[0,0.076,0.153,0.229,0.306,0.382,0.459,0.535],"range":["#03051a","#35193e","#701f57","#ad1759","#e13342","#f37651","#f6b48f","#faebdd"]},"legend":{"legendX":896,"legendY":177,"gradientLength":273,"values":[0,0.1,0.2,0.3,0.4,0.5],"format":".1f"}}}},
{"data":{"name":"A3"},"mark":{"type":"rect","stroke":"white","strokeOpacity":0.42,"strokeWidth":2.5},"encoding":{"x":{"field":"x","type":"ordinal","scale":{"domain":[0,1,2,3,4,5,6],"range":[998,1334],"paddingInner":0,"paddingOuter":0},"axis":{"title":null,"orient":"bottom","offset":-1182}},"y":{"field":"y","type":"ordinal","scale":{"domain":[0,1,2,3,4,5,6],"range":[175,445],"paddingInner":0,"paddingOuter":0},"axis":{"title":null,"orient":"left","offset":-998}},"color":{"field":"v","type":"quantitative","scale":{"domain":[0,0.052,0.105,0.157,0.21,0.262,0.315,0.367],"range":["#03051a","#35193e","#701f57","#ad1759","#e13342","#f37651","#f6b48f","#faebdd"]},"legend":{"legendX":1357,"legendY":177,"gradientLength":271,"values":[0,0.08,0.16,0.24,0.32],"format":".2f"}}}},
{"data":{"name":"A4"},"mark":{"type":"rect","stroke":"white","strokeOpacity":0.42,"strokeWidth":2.5},"encoding":{"x":{"field":"x","type":"ordinal","scale":{"domain":[0,1,2,3,4,5,6],"range":[1458,1796],"paddingInner":0,"paddingOuter":0},"axis":{"title":null,"orient":"bottom","offset":-1182}},"y":{"field":"y","type":"ordinal","scale":{"domain":[0,1,2,3,4,5,6],"range":[175,445],"paddingInner":0,"paddingOuter":0},"axis":{"title":null,"orient":"left","offset":-1458}},"color":{"field":"v","type":"quantitative","scale":{"domain":[0,0.056,0.113,0.169,0.225,0.281,0.338,0.394],"range":["#03051a","#35193e","#701f57","#ad1759","#e13342","#f37651","#f6b48f","#faebdd"]},"legend":{"legendX":1818,"legendY":177,"gradientLength":271,"values":[0,0.08,0.16,0.24,0.32],"format":".2f"}}}},
{"data":{"name":"A5"},"mark":{"type":"rect","stroke":"white","strokeOpacity":0.42,"strokeWidth":2.5},"encoding":{"x":{"field":"x","type":"ordinal","scale":{"domain":[0,1,2,3,4,5,6],"range":[535,871],"paddingInner":0,"paddingOuter":0},"axis":{"title":null,"orient":"bottom","offset":-853}},"y":{"field":"y","type":"ordinal","scale":{"domain":[0,1,2,3,4,5,6],"range":[499,774],"paddingInner":0,"paddingOuter":0},"axis":{"title":null,"orient":"left","offset":-535}},"color":{"field":"v","type":"quantitative","scale":{"domain":[0,0.067,0.134,0.201,0.269,0.336,0.403,0.47],"range":["#03051a","#35193e","#701f57","#ad1759","#e13342","#f37651","#f6b48f","#faebdd"]},"legend":{"legendX":895,"legendY":500,"gradientLength":275,"values":[0,0.08,0.16,0.24,0.32,0.4],"format":".2f"}}}},
{"data":{"name":"A6"},"mark":{"type":"rect","stroke":"white","strokeOpacity":0.42,"strokeWidth":2.5},"encoding":{"x":{"field":"x","type":"ordinal","scale":{"domain":[0,1,2,3,4,5,6],"range":[985,1323],"paddingInner":0,"paddingOuter":0},"axis":{"title":null,"orient":"bottom","offset":-528}},"y":{"field":"y","type":"ordinal","scale":{"domain":[0,1,2,3,4,5,6],"range":[826,1099],"paddingInner":0,"paddingOuter":0},"axis":{"title":null,"orient":"left","offset":-985}},"color":{"field":"v","type":"quantitative","scale":{"domain":[0,0.039,0.078,0.117,0.155,0.194,0.233,0.272],"range":["#03051a","#35193e","#701f57","#ad1759","#e13342","#f37651","#f6b48f","#faebdd"]},"legend":{"legendX":1346,"legendY":826,"gradientLength":275,"values":[0,0.05,0.1,0.15,0.2,0.25],"format":".2f"}}}},
{"data":{"name":"A7"},"mark":{"type":"rect","stroke":"white","strokeOpacity":0.42,"strokeWidth":2.5},"encoding":{"x":{"field":"x","type":"ordinal","scale":{"domain":[0,1,2,3,4,5,6],"range":[54,392],"paddingInner":0,"paddingOuter":0},"axis":{"title":null,"orient":"bottom","offset":-212}},"y":{"field":"y","type":"ordinal","scale":{"domain":[0,1,2,3,4,5,6],"range":[1140,1415],"paddingInner":0,"paddingOuter":0},"axis":{"title":null,"orient":"left","offset":-54}},"color":{"field":"v","type":"quantitative","scale":{"domain":[0.003,0.049,0.094,0.14,0.185,0.231,0.276,0.322],"range":["#03051a","#35193e","#701f57","#ad1759","#e13342","#f37651","#f6b48f","#faebdd"]},"legend":{"legendX":415,"legendY":1140,"gradientLength":277,"values":[0.06,0.12,0.18,0.24,0.3],"format":".2f"}}}},
{"data":{"name":"A8"},"mark":{"type":"rect","stroke":"white","strokeOpacity":0.42,"strokeWidth":2.5},"encoding":{"x":{"field":"x","type":"ordinal","scale":{"domain":[0,1,2,3,4,5,6],"range":[520,856],"paddingInner":0,"paddingOuter":0},"axis":{"title":null,"orient":"bottom","offset":-211}},"y":{"field":"y","type":"ordinal","scale":{"domain":[0,1,2,3,4,5,6],"range":[1142,1416],"paddingInner":0,"paddingOuter":0},"axis":{"title":null,"orient":"left","offset":-520}},"color":{"field":"v","type":"quantitative","scale":{"domain":[0,0.038,0.075,0.113,0.151,0.189,0.226,0.264],"range":["#03051a","#35193e","#701f57","#ad1759","#e13342","#f37651","#f6b48f","#faebdd"]},"legend":{"legendX":879,"legendY":1142,"gradientLength":276,"values":[0,0.05,0.1,0.15,0.2,0.25],"format":".2f"}}}},
{"data":{"name":"A9"},"mark":{"type":"rect","stroke":"white","strokeOpacity":0.42,"strokeWidth":2.5},"encoding":{"x":{"field":"x","type":"ordinal","scale":{"domain":[0,1,2,3,4,5,6],"range":[982,1320],"paddingInner":0,"paddingOuter":0},"axis":{"title":null,"orient":"bottom","offset":-211}},"y":{"field":"y","type":"ordinal","scale":{"domain":[0,1,2,3,4,5,6],"range":[1142,1416],"paddingInner":0,"paddingOuter":0},"axis":{"title":null,"orient":"left","offset":-982}},"color":{"field":"v","type":"quantitative","scale":{"domain":[0,0.039,0.078,0.117,0.156,0.195,0.234,0.273],"range":["#03051a","#35193e","#701f57","#ad1759","#e13342","#f37651","#f6b48f","#faebdd"]},"legend":{"legendX":1344,"legendY":1142,"gradientLength":276,"values":[0,0.05,0.1,0.15,0.2,0.25],"format":".2f"}}}},
{"data":{"name":"A10"},"mark":{"type":"rect","stroke":"white","strokeOpacity":0.42,"strokeWidth":2.5},"encoding":{"x":{"field":"x","type":"ordinal","scale":{"domain":[0,1,2,3,4,5,6],"range":[1449,1786],"paddingInner":0,"paddingOuter":0},"axis":{"title":null,"orient":"bottom","offset":-213}},"y":{"field":"y","type":"ordinal","scale":{"domain":[0,1,2,3,4,5,6],"range":[1139,1414],"paddingInner":0,"paddingOuter":0},"axis":{"title":null,"orient":"left","offset":-1449}},"color":{"field":"v","type":"quantitative","scale":{"domain":[0,0.048,0.095,0.143,0.191,0.239,0.286,0.334],"range":["#03051a","#35193e","#701f57","#ad1759","#e13342","#f37651","#f6b48f","#faebdd"]},"legend":{"legendX":1809,"legendY":1139,"gradientLength":276,"values":[0,0.06,0.12,0.18,0.24,0.3],"format":".2f"}}}},
{"data":{"name":"B1"},"mark":{"type":"rect","stroke":"white","strokeOpacity":0.42,"strokeWidth":2.5},"encoding":{"x":{"field":"x","type":"ordinal","scale":{"domain":[0,1,2,3,4,5,6],"range":[2172,2506],"paddingInner":0,"paddingOuter":0},"axis":{"title":null,"orient":"bottom","offset":-1177}},"y":{"field":"y","type":"ordinal","scale":{"domain":[0,1,2,3,4,5,6],"range":[178,450],"paddingInner":0,"paddingOuter":0},"axis":{"title":null,"orient":"left","offset":-2172}},"color":{"field":"v","type":"quantitative","scale":{"domain":[0,0.1,0.2,0.3,0.4,0.5,0.6,0.7],"range":["#03051a","#35193e","#701f57","#ad1759","#e13342","#f37651","#f6b48f","#faebdd"]},"legend":{"legendX":2529,"legendY":178,"gradientLength":273,"values":[0,0.15,0.3,0.45,0.6],"format":".2f"}}}},
{"data":{"name":"B2"},"mark":{"type":"rect","stroke":"white","strokeOpacity":0.42,"strokeWidth":2.5},"encoding":{"x":{"field":"x","type":"ordinal","scale":{"domain":[0,1,2,3,4,5,6],"range":[2626,2960],"paddingInner":0,"paddingOuter":0},"axis":{"title":null,"orient":"bottom","offset":-1177}},"y":{"field":"y","type":"ordinal","scale":{"domain":[0,1,2,3,4,5,6],"range":[178,450],"paddingInner":0,"paddingOuter":0},"axis":{"title":null,"orient":"left","offset":-2626}},"color":{"field":"v","type":"quantitative","scale":{"domain":[0.003,0.083,0.162,0.242,0.321,0.401,0.481,0.56],"range":["#03051a","#35193e","#701f57","#ad1759","#e13342","#f37651","#f6b48f","#faebdd"]},"legend":{"legendX":2982,"legendY":178,"gradientLength":273,"values":[0.1,0.2,0.3,0.4,0.5],"format":".1f"}}}},
{"data":{"name":"B3"},"mark":{"type":"rect","stroke":"white","strokeOpacity":0.42,"strokeWidth":2.5},"encoding":{"x":{"field":"x","type":"ordinal","scale":{"domain":[0,1,2,3,4,5,6],"range":[3066,3399],"paddingInner":0,"paddingOuter":0},"axis":{"title":null,"orient":"bottom","offset":-1174}},"y":{"field":"y","type":"ordinal","scale":{"domain":[0,1,2,3,4,5,6],"range":[182,453],"paddingInner":0,"paddingOuter":0},"axis":{"title":null,"orient":"left","offset":-3066}},"color":{"field":"v","type":"quantitative","scale":{"domain":[0.001,0.047,0.092,0.138,0.184,0.23,0.275,0.321],"range":["#03051a","#35193e","#701f57","#ad1759","#e13342","#f37651","#f6b48f","#faebdd"]},"legend":{"legendX":3422,"legendY":182,"gradientLength":273,"values":[0.06,0.12,0.18,0.24,0.3],"format":".2f"}}}},
{"data":{"name":"B4"},"mark":{"type":"rect","stroke":"white","strokeOpacity":0.42,"strokeWidth":2.5},"encoding":{"x":{"field":"x","type":"ordinal","scale":{"domain":[0,1,2,3,4,5,6],"range":[3523,3857],"paddingInner":0,"paddingOuter":0},"axis":{"title":null,"orient":"bottom","offset":-1182}},"y":{"field":"y","type":"ordinal","scale":{"domain":[0,1,2,3,4,5,6],"range":[176,445],"paddingInner":0,"paddingOuter":0},"axis":{"title":null,"orient":"left","offset":-3523}},"color":{"field":"v","type":"quantitative","scale":{"domain":[0,0.037,0.073,0.11,0.147,0.184,0.22,0.257],"range":["#03051a","#35193e","#701f57","#ad1759","#e13342","#f37651","#f6b48f","#faebdd"]},"legend":{"legendX":3878,"legendY":176,"gradientLength":273,"values":[0.05,0.1,0.15,0.2,0.25],"format":".2f"}}}},
{"data":{"name":"B5"},"mark":{"type":"rect","stroke":"white","strokeOpacity":0.42,"strokeWidth":2.5},"encoding":{"x":{"field":"x","type":"ordinal","scale":{"domain":[0,1,2,3,4,5,6],"range":[2623,2956],"paddingInner":0,"paddingOuter":0},"axis":{"title":null,"orient":"bottom","offset":-856}},"y":{"field":"y","type":"ordinal","scale":{"domain":[0,1,2,3,4,5,6],"range":[499,771],"paddingInner":0,"paddingOuter":0},"axis":{"title":null,"orient":"left","offset":-2623}},"color":{"field":"v","type":"quantitative","scale":{"domain":[0,0.07,0.139,0.209,0.279,0.348,0.418,0.4875],"range":["#03051a","#35193e","#701f57","#ad1759","#e13342","#f37651","#f6b48f","#faebdd"]},"legend":{"legendX":2979,"legendY":499,"gradientLength":273,"values":[0,0.1,0.2,0.3,0.4],"format":".1f"}}}},
{"data":{"name":"B6"},"mark":{"type":"rect","stroke":"white","strokeOpacity":0.42,"strokeWidth":2.5},"encoding":{"x":{"field":"x","type":"ordinal","scale":{"domain":[0,1,2,3,4,5,6],"range":[3057,3389],"paddingInner":0,"paddingOuter":0},"axis":{"title":null,"orient":"bottom","offset":-521}},"y":{"field":"y","type":"ordinal","scale":{"domain":[0,1,2,3,4,5,6],"range":[835,1106],"paddingInner":0,"paddingOuter":0},"axis":{"title":null,"orient":"left","offset":-3057}},"color":{"field":"v","type":"quantitative","scale":{"domain":[0,0.017,0.034,0.051,0.067,0.084,0.101,0.118],"range":["#03051a","#35193e","#701f57","#ad1759","#e13342","#f37651","#f6b48f","#faebdd"]},"legend":{"legendX":3412,"legendY":835,"gradientLength":273,"values":[0,0.02,0.04,0.06,0.08,0.1],"format":".2f"}}}},
{"data":{"name":"B7"},"mark":{"type":"rect","stroke":"white","strokeOpacity":0.42,"strokeWidth":2.5},"encoding":{"x":{"field":"x","type":"ordinal","scale":{"domain":[0,1,2,3,4,5,6],"range":[2163,2496],"paddingInner":0,"paddingOuter":0},"axis":{"title":null,"orient":"bottom","offset":-186}},"y":{"field":"y","type":"ordinal","scale":{"domain":[0,1,2,3,4,5,6],"range":[1168,1441],"paddingInner":0,"paddingOuter":0},"axis":{"title":null,"orient":"left","offset":-2163}},"color":{"field":"v","type":"quantitative","scale":{"domain":[0.001,0.034,0.067,0.1,0.134,0.167,0.2,0.233],"range":["#03051a","#35193e","#701f57","#ad1759","#e13342","#f37651","#f6b48f","#faebdd"]},"legend":{"legendX":2519,"legendY":1168,"gradientLength":274,"values":[0.04,0.08,0.12,0.16,0.2],"format":".2f"}}}},
{"data":{"name":"B8"},"mark":{"type":"rect","stroke":"white","strokeOpacity":0.42,"strokeWidth":2.5},"encoding":{"x":{"field":"x","type":"ordinal","scale":{"domain":[0,1,2,3,4,5,6],"range":[2601,2935],"paddingInner":0,"paddingOuter":0},"axis":{"title":null,"orient":"bottom","offset":-190}},"y":{"field":"y","type":"ordinal","scale":{"domain":[0,1,2,3,4,5,6],"range":[1166,1437],"paddingInner":0,"paddingOuter":0},"axis":{"title":null,"orient":"left","offset":-2601}},"color":{"field":"v","type":"quantitative","scale":{"domain":[0,0.02,0.04,0.061,0.081,0.101,0.121,0.1415],"range":["#03051a","#35193e","#701f57","#ad1759","#e13342","#f37651","#f6b48f","#faebdd"]},"legend":{"legendX":2957,"legendY":1166,"gradientLength":273,"values":[0,0.025,0.05,0.075,0.1,0.125],"format":".3f"}}}},
{"data":{"name":"B9"},"mark":{"type":"rect","stroke":"white","strokeOpacity":0.42,"strokeWidth":2.5},"encoding":{"x":{"field":"x","type":"ordinal","scale":{"domain":[0,1,2,3,4,5,6],"range":[3061,3393],"paddingInner":0,"paddingOuter":0},"axis":{"title":null,"orient":"bottom","offset":-191}},"y":{"field":"y","type":"ordinal","scale":{"domain":[0,1,2,3,4,5,6],"range":[1166,1436],"paddingInner":0,"paddingOuter":0},"axis":{"title":null,"orient":"left","offset":-3061}},"color":{"field":"v","type":"quantitative","scale":{"domain":[0,0.014,0.029,0.043,0.057,0.071,0.086,0.1],"range":["#03051a","#35193e","#701f57","#ad1759","#e13342","#f37651","#f6b48f","#faebdd"]},"legend":{"legendX":3416,"legendY":1166,"gradientLength":272,"values":[0,0.02,0.04,0.06,0.08],"format":".2f"}}}},
{"data":{"name":"B10"},"mark":{"type":"rect","stroke":"white","strokeOpacity":0.42,"strokeWidth":2.5},"encoding":{"x":{"field":"x","type":"ordinal","scale":{"domain":[0,1,2,3,4,5,6],"range":[3500,3832],"paddingInner":0,"paddingOuter":0},"axis":{"title":null,"orient":"bottom","offset":-200}},"y":{"field":"y","type":"ordinal","scale":{"domain":[0,1,2,3,4,5,6],"range":[1156,1427],"paddingInner":0,"paddingOuter":0},"axis":{"title":null,"orient":"left","offset":-3500}},"color":{"field":"v","type":"quantitative","scale":{"domain":[0,0.019,0.038,0.057,0.076,0.095,0.114,0.133],"range":["#03051a","#35193e","#701f57","#ad1759","#e13342","#f37651","#f6b48f","#faebdd"]},"legend":{"legendX":3855,"legendY":1156,"gradientLength":272,"values":[0,0.025,0.05,0.075,0.1,0.125],"format":".3f"}}}}
]}
